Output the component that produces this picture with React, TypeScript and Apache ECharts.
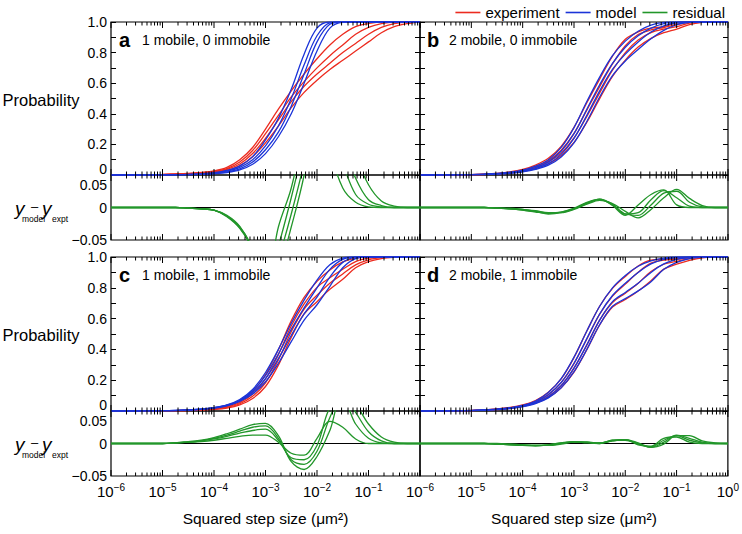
import { useEffect, useRef } from "react";
import * as echarts from "echarts";

const FONT = '"Liberation Sans", Arial, Helvetica, sans-serif';
const RED = "#ec2b1f";
const BLUE = "#1b34d8";
const GREEN = "#22962a";

// squared step size (um^2), quarter-decade sampling
const xValues = [1e-6, 1.778e-6, 3.162e-6, 5.623e-6, 1e-5, 1.778e-5, 3.162e-5, 5.623e-5, 1e-4, 1.778e-4, 3.162e-4, 5.623e-4, 1e-3, 1.778e-3, 3.162e-3, 5.623e-3, 1e-2, 1.778e-2, 3.162e-2, 5.623e-2, 0.1, 0.1778, 0.3162, 0.5623, 1];

// panel a: 1 mobile, 0 immobile
const aExpt1 = [0,0,0.001,0.002,0.004,0.007,0.011,0.017,0.027,0.05,0.1,0.18,0.3,0.43,0.55,0.66,0.76,0.85,0.92,0.97,0.99,1,1,1,1];
const aExpt2 = [0,0,0.001,0.002,0.003,0.006,0.009,0.014,0.023,0.042,0.085,0.16,0.27,0.39,0.51,0.61,0.7,0.78,0.85,0.92,0.965,0.99,1,1,1];
const aExpt3 = [0,0,0.001,0.001,0.003,0.005,0.008,0.012,0.02,0.036,0.072,0.14,0.24,0.36,0.48,0.58,0.66,0.73,0.8,0.86,0.92,0.965,0.99,1,1];
const aExpt4 = [0,0,0,0.001,0.002,0.004,0.007,0.01,0.017,0.03,0.06,0.12,0.21,0.32,0.44,0.54,0.62,0.69,0.75,0.81,0.87,0.93,0.97,0.99,1];
const aModel1 = [0,0,0,0,0.001,0.002,0.004,0.008,0.015,0.03,0.06,0.12,0.23,0.37,0.56,0.79,0.96,1,1,1,1,1,1,1,1];
const aModel2 = [0,0,0,0,0.001,0.002,0.003,0.006,0.012,0.025,0.05,0.1,0.19,0.32,0.5,0.72,0.91,0.995,1,1,1,1,1,1,1];
const aModel3 = [0,0,0,0,0.001,0.001,0.003,0.005,0.01,0.02,0.04,0.085,0.165,0.28,0.45,0.66,0.87,0.985,1,1,1,1,1,1,1];
const aModel4 = [0,0,0,0,0.001,0.001,0.002,0.004,0.008,0.016,0.033,0.07,0.14,0.25,0.4,0.6,0.81,0.96,0.998,1,1,1,1,1,1];
const aResid1 = [0,0,0,0,0,0,-0.001,-0.002,-0.004,-0.014,-0.032,-0.065,-0.12,-0.03,0.03,0.12,0.2,0.09,0.03,0.008,0.001,0,0,0,0];
const aResid2 = [0,0,0,0,0,0,-0.001,-0.002,-0.004,-0.013,-0.031,-0.065,-0.13,-0.06,0.015,0.1,0.2,0.15,0.07,0.02,0.005,0.001,0,0,0];
const aResid3 = [0,0,0,0,0,0,-0.001,-0.002,-0.004,-0.013,-0.03,-0.065,-0.14,-0.08,-0.01,0.07,0.18,0.16,0.1,0.045,0.012,0.003,0,0,0];
const aResid4 = [0,0,0,0,0,0,-0.001,-0.002,-0.004,-0.012,-0.029,-0.065,-0.15,-0.1,-0.03,0.05,0.17,0.17,0.13,0.08,0.035,0.01,0.002,0,0];

// panel b: 2 mobile, 0 immobile
const bExpt1 = [0,0,0.001,0.002,0.003,0.006,0.011,0.02,0.036,0.065,0.109,0.187,0.311,0.472,0.627,0.777,0.887,0.936,0.96,0.97,0.996,1,1,1,1];
const bExpt2 = [0,0,0.001,0.002,0.003,0.005,0.009,0.017,0.03,0.055,0.094,0.162,0.272,0.424,0.578,0.726,0.845,0.918,0.948,0.964,0.984,0.998,1,1,1];
const bExpt3 = [0,0,0.001,0.001,0.002,0.004,0.008,0.015,0.027,0.048,0.084,0.143,0.242,0.383,0.537,0.685,0.8,0.882,0.931,0.953,0.97,0.992,0.999,1,1];
const bExpt4 = [0,0,0,0.001,0.002,0.003,0.007,0.012,0.023,0.041,0.072,0.126,0.213,0.345,0.499,0.644,0.751,0.836,0.893,0.93,0.954,0.983,0.997,1,1];
const bModel1 = [0,0,0.001,0.002,0.003,0.006,0.01,0.018,0.032,0.058,0.1,0.18,0.31,0.48,0.64,0.78,0.875,0.94,0.98,0.997,1,1,1,1,1];
const bModel2 = [0,0,0.001,0.002,0.003,0.005,0.008,0.015,0.027,0.049,0.086,0.155,0.27,0.43,0.59,0.73,0.835,0.91,0.96,0.99,0.999,1,1,1,1];
const bModel3 = [0,0,0.001,0.001,0.002,0.004,0.007,0.013,0.023,0.042,0.074,0.135,0.24,0.39,0.55,0.69,0.79,0.87,0.935,0.975,0.995,1,1,1,1];
const bModel4 = [0,0,0,0.001,0.002,0.003,0.006,0.011,0.02,0.036,0.064,0.118,0.21,0.35,0.51,0.65,0.745,0.82,0.89,0.945,0.982,0.997,1,1,1];
const bResid1 = [0,0,0,0,0,0,-0.001,-0.002,-0.004,-0.007,-0.009,-0.007,-0.001,0.008,0.013,0.003,-0.012,0.004,0.02,0.027,0.004,0,0,0,0];
const bResid2 = [0,0,0,0,0,0,-0.001,-0.002,-0.003,-0.006,-0.008,-0.007,-0.002,0.006,0.012,0.004,-0.01,-0.008,0.012,0.026,0.015,0.002,0,0,0];
const bResid3 = [0,0,0,0,0,0,-0.001,-0.002,-0.004,-0.006,-0.01,-0.008,-0.002,0.007,0.013,0.005,-0.01,-0.012,0.004,0.022,0.025,0.008,0.001,0,0];
const bResid4 = [0,0,0,0,0,0,-0.001,-0.001,-0.003,-0.005,-0.008,-0.008,-0.003,0.005,0.011,0.006,-0.006,-0.016,-0.003,0.015,0.028,0.014,0.003,0,0];

// panel c: 1 mobile, 1 immobile
const cExpt1 = [0,0,0,0.001,0.002,0.003,0.005,0.009,0.017,0.032,0.064,0.127,0.237,0.398,0.585,0.738,0.842,0.916,0.968,0.993,1,1,1,1,1];
const cExpt2 = [0,0,0,0.001,0.002,0.003,0.005,0.008,0.014,0.027,0.054,0.11,0.208,0.365,0.552,0.695,0.803,0.865,0.92,0.97,0.992,0.999,1,1,1];
const cExpt3 = [0,0,0,0.001,0.002,0.002,0.004,0.007,0.012,0.023,0.047,0.095,0.183,0.332,0.515,0.662,0.752,0.83,0.89,0.949,0.982,0.996,1,1,1];
const cExpt4 = [0,0,0,0.001,0.002,0.002,0.003,0.006,0.01,0.019,0.04,0.081,0.159,0.298,0.478,0.63,0.71,0.79,0.855,0.93,0.97,0.99,0.998,1,1];
const cModel1 = [0,0,0,0.001,0.002,0.004,0.007,0.012,0.022,0.04,0.075,0.14,0.25,0.4,0.57,0.72,0.85,0.95,0.993,1,1,1,1,1,1];
const cModel2 = [0,0,0,0.001,0.002,0.004,0.007,0.012,0.021,0.038,0.07,0.13,0.23,0.37,0.53,0.67,0.8,0.92,0.985,1,1,1,1,1,1];
const cModel3 = [0,0,0,0.001,0.002,0.003,0.006,0.011,0.02,0.036,0.066,0.12,0.21,0.34,0.49,0.63,0.74,0.87,0.965,0.997,1,1,1,1,1];
const cModel4 = [0,0,0,0.001,0.002,0.003,0.006,0.011,0.019,0.034,0.062,0.11,0.19,0.31,0.45,0.59,0.69,0.81,0.93,0.99,1,1,1,1,1];
const cResid1 = [0,0,0,0,0,0.001,0.002,0.003,0.005,0.008,0.011,0.013,0.013,0.002,-0.015,-0.018,0.008,0.034,0.025,0.007,0,0,0,0,0];
const cResid2 = [0,0,0,0,0,0.001,0.002,0.004,0.007,0.011,0.016,0.02,0.022,0.005,-0.022,-0.025,-0.003,0.055,0.065,0.03,0.008,0.001,0,0,0];
const cResid3 = [0,0,0,0,0,0.001,0.002,0.004,0.008,0.013,0.019,0.025,0.027,0.008,-0.025,-0.032,-0.012,0.04,0.075,0.048,0.018,0.004,0,0,0];
const cResid4 = [0,0,0,0,0,0.001,0.003,0.005,0.009,0.015,0.022,0.029,0.031,0.012,-0.028,-0.04,-0.02,0.02,0.075,0.06,0.03,0.01,0.002,0,0];

// panel d: 2 mobile, 1 immobile
const dExpt1 = [0,0,0.001,0.002,0.004,0.007,0.013,0.023,0.039,0.068,0.122,0.209,0.347,0.519,0.68,0.796,0.874,0.942,0.979,0.985,0.99,0.998,1,1,1];
const dExpt2 = [0,0,0.001,0.002,0.003,0.006,0.012,0.021,0.036,0.062,0.107,0.184,0.308,0.468,0.629,0.746,0.824,0.901,0.96,0.98,0.985,0.995,0.999,1,1];
const dExpt3 = [0,0,0.001,0.001,0.003,0.005,0.011,0.018,0.032,0.055,0.096,0.165,0.277,0.428,0.59,0.705,0.765,0.83,0.906,0.953,0.972,0.989,0.998,1,1];
const dExpt4 = [0,0,0,0.001,0.003,0.005,0.009,0.017,0.03,0.051,0.088,0.151,0.253,0.398,0.559,0.675,0.724,0.779,0.846,0.921,0.953,0.978,0.994,0.999,1];
const dModel1 = [0,0,0.001,0.002,0.004,0.007,0.012,0.021,0.036,0.065,0.12,0.21,0.35,0.52,0.68,0.8,0.88,0.94,0.975,0.993,1,1,1,1,1];
const dModel2 = [0,0,0.001,0.002,0.003,0.006,0.011,0.019,0.033,0.058,0.105,0.185,0.31,0.47,0.63,0.75,0.83,0.9,0.955,0.985,0.997,1,1,1,1];
const dModel3 = [0,0,0.001,0.001,0.003,0.005,0.01,0.017,0.03,0.052,0.093,0.165,0.28,0.43,0.59,0.71,0.77,0.83,0.9,0.955,0.985,0.997,1,1,1];
const dModel4 = [0,0,0,0.001,0.003,0.005,0.009,0.016,0.028,0.048,0.085,0.15,0.255,0.4,0.56,0.68,0.73,0.78,0.84,0.92,0.965,0.99,0.998,1,1];
const dResid1 = [0,0,0,0,0,0,-0.001,-0.002,-0.003,-0.003,-0.002,0.001,0.003,0.001,0,0.004,0.006,-0.002,-0.004,0.008,0.01,0.002,0,0,0];
const dResid2 = [0,0,0,0,0,0,-0.001,-0.002,-0.003,-0.004,-0.002,0.001,0.002,0.002,0.001,0.004,0.006,-0.001,-0.005,0.005,0.012,0.005,0.001,0,0];
const dResid3 = [0,0,0,0,0,0,-0.001,-0.001,-0.002,-0.003,-0.003,0,0.003,0.002,0,0.005,0.005,0,-0.006,0.002,0.013,0.008,0.002,0,0];
const dResid4 = [0,0,0,0,0,0,0,-0.001,-0.002,-0.003,-0.003,-0.001,0.002,0.002,0.001,0.005,0.006,0.001,-0.006,-0.001,0.012,0.012,0.004,0.001,0];

const panelLetters = ["a", "b", "c", "d"];
const panelTitles = ["1 mobile, 0 immobile", "2 mobile, 0 immobile", "1 mobile, 1 immobile", "2 mobile, 1 immobile"];
const legendNames = ["experiment", "model", "residual"];
const xTitle = "Squared step size (\u03bcm\u00b2)";
const yTitle = "Probability";

const panels = [
  { expt: [aExpt1, aExpt2, aExpt3, aExpt4], model: [aModel1, aModel2, aModel3, aModel4], resid: [aResid1, aResid2, aResid3, aResid4] },
  { expt: [bExpt1, bExpt2, bExpt3, bExpt4], model: [bModel1, bModel2, bModel3, bModel4], resid: [bResid1, bResid2, bResid3, bResid4] },
  { expt: [cExpt1, cExpt2, cExpt3, cExpt4], model: [cModel1, cModel2, cModel3, cModel4], resid: [cResid1, cResid2, cResid3, cResid4] },
  { expt: [dExpt1, dExpt2, dExpt3, dExpt4], model: [dModel1, dModel2, dModel3, dModel4], resid: [dResid1, dResid2, dResid3, dResid4] },
];

const majorTicks = [1e-6, 1e-5, 1e-4, 1e-3, 1e-2, 1e-1, 1];
const minorTicks: number[] = [];
majorTicks.slice(0, -1).forEach((d) => {
  for (let m = 2; m <= 9; m++) minorTicks.push(m * d);
});

function buildOption() {
  const cols = [{ left: 111, width: 309 }, { left: 420, width: 308 }];
  const rows = [
    { pTop: 22, pH: 153, rTop: 175, rH: 65 },
    { pTop: 257, pH: 154, rTop: 411, rH: 65 },
  ];
  const grids: any[] = [];
  const xAxes: any[] = [];
  const yAxes: any[] = [];
  const series: any[] = [];
  const graphics: any[] = [];

  const tickData = [
    ...majorTicks.map((v) => [v, 1]),
    ...minorTicks.map((v) => [v, 0]),
  ];

  const tickSeries = (g: number, yMin: number, yMax: number) => ({
    type: "custom",
    xAxisIndex: g,
    yAxisIndex: g,
    silent: true,
    z: 10,
    encode: { x: 0 },
    data: tickData,
    renderItem: (_params: any, api: any) => {
      const x = api.value(0);
      const major = api.value(1) === 1;
      const b = api.coord([x, yMin]);
      const t = api.coord([x, yMax]);
      const len = major ? 6 : 3.5;
      const st = { stroke: "#000", lineWidth: 1 };
      return {
        type: "group",
        children: [
          { type: "line", shape: { x1: b[0], y1: b[1], x2: b[0], y2: b[1] - len }, style: st },
          { type: "line", shape: { x1: t[0], y1: t[1], x2: t[0], y2: t[1] + len }, style: st },
        ],
      };
    },
  });

  const line = (name: string, color: string, g: number, arr: number[], z: number) => ({
    type: "line",
    name,
    xAxisIndex: g,
    yAxisIndex: g,
    data: xValues.map((x, i) => [x, arr[i]]),
    symbol: "none",
    showSymbol: false,
    smooth: 0.35,
    silent: true,
    z,
    itemStyle: { color },
    lineStyle: { color, width: 1.3 },
  });

  const xLabelFmt = (v: number) => {
    const e = Math.round(Math.log10(v));
    const es = e < 0 ? "\u2212" + -e : String(e);
    return "{b|10}{s|" + es + "}";
  };

  const makeX = (g: number, showLabels: boolean, isLeft: boolean) => ({
    type: "log",
    logBase: 10,
    gridIndex: g,
    min: 1e-6,
    max: 1,
    axisLine: { show: false },
    axisTick: { show: false },
    splitLine: { show: false },
    axisLabel: {
      show: showLabels,
      showMaxLabel: !isLeft,
      margin: 6,
      color: "#000",
      fontFamily: FONT,
      fontSize: 15,
      formatter: xLabelFmt,
      rich: {
        b: { fontSize: 15, fontFamily: FONT, color: "#000" },
        s: { fontSize: 10, fontFamily: FONT, color: "#000", padding: [0, 0, 9, 0] },
      },
    },
    name: showLabels ? xTitle : "",
    nameLocation: "middle",
    nameGap: 34,
    nameTextStyle: { fontSize: 15.5, fontFamily: FONT, color: "#000" },
  });

  const probY = (g: number, showLabels: boolean, position: string) => ({
    type: "value",
    gridIndex: g,
    position,
    min: 0,
    max: 1,
    interval: 0.1,
    axisLine: { show: false },
    axisTick: { show: true, inside: true, length: 5, lineStyle: { color: "#000", width: 1 } },
    splitLine: { show: false },
    axisLabel: {
      show: showLabels,
      margin: 4,
      color: "#000",
      fontFamily: FONT,
      fontSize: 14,
      formatter: (v: number) => {
        const k = Math.round(v * 10);
        if (k % 2 !== 0) return "";
        if (k === 0) return "{lo|0}";
        return (k / 10).toFixed(1);
      },
      rich: { lo: { fontSize: 14, fontFamily: FONT, color: "#000", padding: [0, 0, 12, 0] } },
    },
  });

  const resY = (g: number, showLabels: boolean) => ({
    type: "value",
    gridIndex: g,
    min: -0.05,
    max: 0.05,
    interval: 0.05,
    axisLine: { show: false },
    axisTick: { show: false },
    splitLine: { show: false },
    axisLabel: {
      show: showLabels,
      margin: 4,
      color: "#000",
      fontFamily: FONT,
      fontSize: 14,
      formatter: (v: number) => {
        if (Math.abs(v - 0.05) < 1e-9) return "{hi|0.05}";
        if (Math.abs(v) < 1e-9) return "0";
        return "\u22120.05";
      },
      rich: { hi: { fontSize: 14, fontFamily: FONT, color: "#000", padding: [19, 0, 0, 0] } },
    },
  });

  panels.forEach((p, pi) => {
    const col = cols[pi % 2];
    const row = rows[Math.floor(pi / 2)];
    const isLeft = pi % 2 === 0;
    const isBottom = pi >= 2;
    const gP = pi * 2;
    const gR = pi * 2 + 1;
    const frame = { show: true, borderColor: "#000", borderWidth: 1.2, backgroundColor: "transparent" };
    grids.push({ left: col.left, top: row.pTop, width: col.width, height: row.pH, ...frame });
    grids.push({ left: col.left, top: row.rTop, width: col.width, height: row.rH, ...frame });
    xAxes.push(makeX(gP, false, isLeft), makeX(gR, isBottom, isLeft));
    yAxes.push(probY(gP, isLeft, "left"), resY(gR, isLeft));

    series.push({
      type: "line",
      xAxisIndex: gR,
      yAxisIndex: gR,
      data: [[1e-6, 0], [1, 0]],
      symbol: "none",
      silent: true,
      z: 1,
      lineStyle: { color: "#000", width: 1.1 },
    });
    p.expt.forEach((arr) => series.push(line(legendNames[0], RED, gP, arr, 2)));
    p.model.forEach((arr) => series.push(line(legendNames[1], BLUE, gP, arr, 3)));
    p.resid.forEach((arr) => series.push(line(legendNames[2], GREEN, gR, arr, 2)));
    series.push(tickSeries(gP, 0, 1), tickSeries(gR, -0.05, 0.05));

    const letterX = col.left + (isLeft ? 8 : 7);
    const ly = row.pTop + 18;
    graphics.push({
      type: "text",
      x: letterX,
      y: ly,
      style: { text: panelLetters[pi], font: `bold 20px ${FONT}`, fill: "#000", verticalAlign: "middle", align: "left" },
    });
    graphics.push({
      type: "text",
      x: col.left + (isLeft ? 31 : 29),
      y: ly,
      style: { text: panelTitles[pi], font: `14px ${FONT}`, fill: "#000", verticalAlign: "middle", align: "left" },
    });
  });

  panels.forEach((_p, pi) => {
    yAxes.push(probY(pi * 2, false, "right"));
  });

  rows.forEach((row) => {
    graphics.push({
      type: "text",
      x: 41,
      y: row.pTop + 78,
      style: { text: yTitle, font: `16.5px ${FONT}`, fill: "#000", verticalAlign: "middle", align: "center" },
    });
    const yc = row.rTop + 33;
    const parts = [
      { t: "y", x: 15, dy: 0, f: `italic 19px ${FONT}` },
      { t: "model", x: 22, dy: 11, f: `8.5px ${FONT}` },
      { t: "\u2013", x: 31, dy: -2, f: `13px ${FONT}` },
      { t: "y", x: 42, dy: 0, f: `italic 19px ${FONT}` },
      { t: "expt", x: 52, dy: 11, f: `8.5px ${FONT}` },
    ];
    parts.forEach((pt) =>
      graphics.push({
        type: "text",
        x: pt.x,
        y: yc + pt.dy,
        style: { text: pt.t, font: pt.f, fill: "#000", verticalAlign: "middle", align: "left" },
      })
    );
  });

  return {
    animation: false,
    backgroundColor: "#fff",
    textStyle: { fontFamily: FONT },
    legend: {
      data: legendNames,
      top: 0,
      right: 12,
      icon: "rect",
      itemWidth: 25,
      itemHeight: 1.6,
      itemGap: 6,
      selectedMode: false,
      textStyle: { fontSize: 15, fontFamily: FONT, color: "#000" },
    },
    grid: grids,
    xAxis: xAxes,
    yAxis: yAxes,
    series,
    graphic: graphics,
  };
}

export default function App() {
  const ref = useRef<HTMLDivElement>(null);
  useEffect(() => {
    if (!ref.current) return;
    const chart = echarts.init(ref.current, undefined, { renderer: "svg" });
    chart.setOption(buildOption() as any);
    return () => chart.dispose();
  }, []);
  return <div ref={ref} style={{ position: "absolute", left: 0, top: 0, width: 742, height: 534 }} />;
}
